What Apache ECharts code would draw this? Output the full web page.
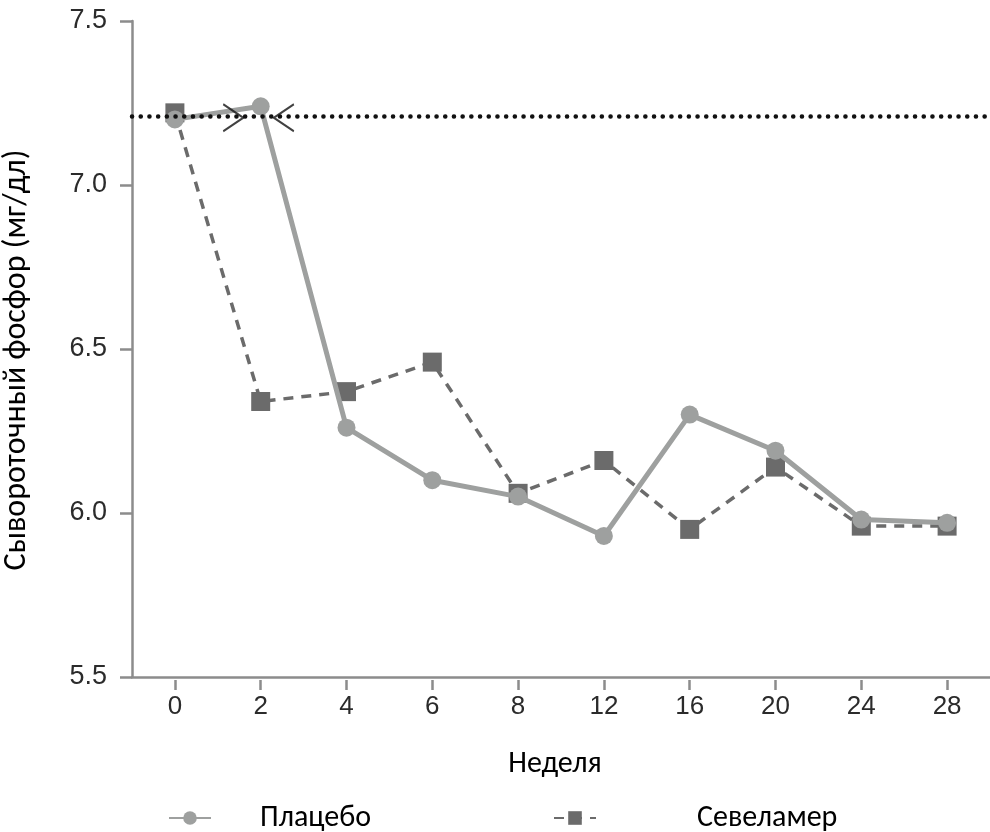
<!DOCTYPE html>
<html>
<head>
<meta charset="utf-8">
<script src="https://cdn.jsdelivr.net/npm/echarts@6/dist/echarts.min.js"></script>
<style>
  html, body { margin: 0; padding: 0; background: #fff; }
  #chart { width: 990px; height: 832px; }
</style>
</head>
<body>
<div id="chart"></div>
<script>
// Study weeks shown on the horizontal axis
const weeks = ['0', '2', '4', '6', '8', '12', '16', '20', '24', '28'];
// Mean serum phosphorus, mg/dL
const placebo = [7.20, 7.24, 6.26, 6.10, 6.05, 5.93, 6.30, 6.19, 5.98, 5.97];
const sevelamer = [7.22, 6.34, 6.37, 6.46, 6.06, 6.16, 5.95, 6.14, 5.96, 5.96];
// Baseline reference level (dotted line)
const baseline = 7.21;
// Break markers on the baseline, positions in week-index units
const breakMarks = [[0.68, 7.205, '>'], [1.27, 7.205, '<']];
const yTicks = [5.5, 6.0, 6.5, 7.0, 7.5];

const seriesNames = ['Плацебо', 'Севеламер'];

const chart = echarts.init(document.getElementById('chart'), null, { renderer: 'canvas' });

const numFont = "'Liberation Sans', Arial, sans-serif";
const textFont = "Carlito, Calibri, 'Open Sans', sans-serif";
const axisGrey = '#8c8c8c';

const chevronRight = 'path://M0,0 L20,13 L0,26';
const chevronLeft = 'path://M20,0 L0,13 L20,26';

chart.setOption({
  animation: false,
  grid: {
    left: 132, right: 0, top: 21, bottom: 155,
    containLabel: false, outerBoundsMode: 'none'
  },
  legend: [
    {
      data: [seriesNames[0]], left: 163, top: 798, itemWidth: 42, itemHeight: 17,
      textStyle: { fontFamily: textFont, fontSize: 30, color: '#000', padding: [0, 0, 0, 44] }
    },
    {
      data: [seriesNames[1]], left: 548, top: 798, itemWidth: 42, itemHeight: 17,
      textStyle: { fontFamily: textFont, fontSize: 30, color: '#000', padding: [0, 0, 0, 96] }
    }
  ],
  xAxis: [
    {
      // the horizontal axis line
      type: 'category', data: weeks, boundaryGap: true,
      axisLine: { show: true, onZero: false, lineStyle: { color: axisGrey, width: 2.5 } },
      axisTick: { show: false }, axisLabel: { show: false }, splitLine: { show: false },
      name: 'Неделя', nameLocation: 'middle', nameGap: 72,
      nameTextStyle: { fontFamily: textFont, fontSize: 30, color: '#000', padding: [0, 12, 0, 0] }
    },
    {
      // week ticks and labels, set slightly below the line
      type: 'category', data: weeks, boundaryGap: true, position: 'bottom', offset: 3,
      axisLine: { show: false, onZero: false },
      axisTick: { show: true, alignWithLabel: true, length: 10, lineStyle: { color: axisGrey, width: 2.5 } },
      axisLabel: { margin: 14, fontFamily: numFont, fontSize: 26, color: '#2b2b2b' },
      splitLine: { show: false }
    },
    {
      // hidden continuous axis for the break markers
      type: 'value', min: -0.5, max: 9.5, show: false
    }
  ],
  yAxis: {
    type: 'value', min: yTicks[0], max: yTicks[yTicks.length - 1], interval: 0.5,
    axisLine: { show: true, onZero: false, lineStyle: { color: axisGrey, width: 2.5 } },
    axisTick: { show: true, length: 12, lineStyle: { color: axisGrey, width: 2.5 } },
    axisLabel: {
      margin: 25, formatter: v => v.toFixed(1),
      fontFamily: numFont, fontSize: 27, color: '#2b2b2b'
    },
    splitLine: { show: false },
    name: 'Сывороточный фосфор (мг/дл)', nameLocation: 'middle', nameGap: 99,
    nameTextStyle: { fontFamily: textFont, fontSize: 32, color: '#000', padding: [0, 22, 0, 0] }
  },
  series: [
    {
      name: seriesNames[1], type: 'line', xAxisIndex: 0,
      data: sevelamer,
      symbol: 'rect', symbolSize: 19,
      itemStyle: { color: '#6b6b6b' },
      lineStyle: { color: '#6b6b6b', width: 3.5, type: [10, 8] },
      z: 3,
      markLine: {
        silent: true, symbol: 'none', label: { show: false },
        lineStyle: { color: '#111', width: 4.5, type: [0.1, 8.6], cap: 'round' },
        data: [{ yAxis: baseline }]
      }
    },
    {
      name: seriesNames[0], type: 'line', xAxisIndex: 0,
      data: placebo,
      symbol: 'circle', symbolSize: 18,
      itemStyle: { color: '#9ea09f' },
      lineStyle: { color: '#9ea09f', width: 5 },
      z: 4
    },
    {
      type: 'scatter', xAxisIndex: 2, silent: true, z: 5,
      data: breakMarks.map(d => ({
        value: [d[0], d[1]],
        symbol: d[2] === '>' ? chevronRight : chevronLeft
      })),
      symbolSize: [20, 27],
      itemStyle: { color: 'rgba(0,0,0,0)', borderColor: '#111', borderWidth: 2 }
    }
  ]
});
</script>
</body>
</html>
